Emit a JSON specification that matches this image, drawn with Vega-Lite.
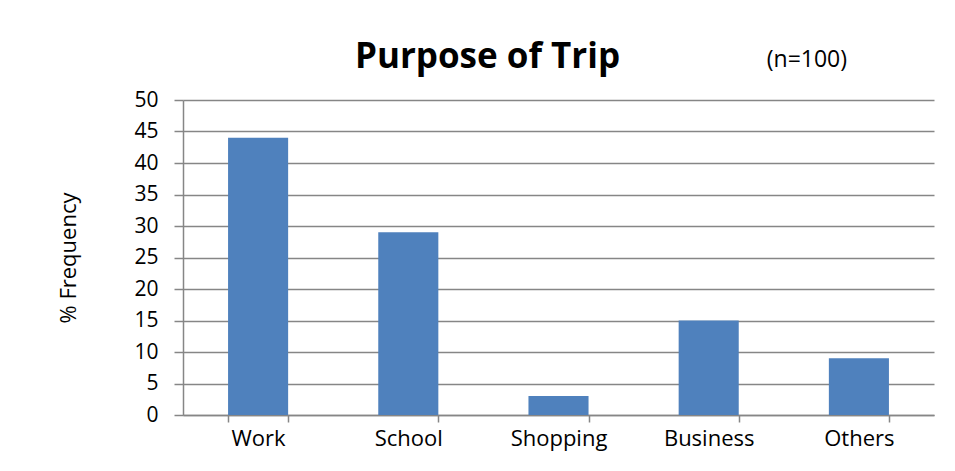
{
  "$schema": "https://vega.github.io/schema/vega-lite/v6.json",
  "width": 751,
  "height": 315,
  "autosize": {"type": "none"},
  "padding": {"left": 183, "top": 100, "right": 21, "bottom": 56},
  "background": "white",
  "title": {
    "text": "Purpose of Trip",
    "font": "Open Sans",
    "fontSize": 35,
    "fontWeight": "bold",
    "color": "#000000",
    "anchor": "middle",
    "dx": -71,
    "offset": -26
  },
  "encoding": {
    "x": {
      "field": "purpose",
      "type": "nominal",
      "sort": null,
      "scale": {"paddingInner": 0.6, "paddingOuter": 0.3},
      "axis": {
        "title": null,
        "labelAngle": 0,
        "labelFont": "Open Sans",
        "labelFontSize": 22,
        "labelColor": "#000000",
        "labelPadding": 6,
        "tickBand": "extent",
        "tickSize": 7,
        "tickColor": "#868686",
        "tickWidth": 1.5,
        "domainColor": "#868686",
        "domainWidth": 1.5,
        "grid": false
      }
    },
    "y": {
      "field": "freq",
      "type": "quantitative",
      "scale": {"domain": [0, 50]},
      "axis": {
        "title": "% Frequency",
        "titleFont": "Open Sans",
        "titleFontSize": 22,
        "titleFontWeight": "normal",
        "titleColor": "#000000",
        "titlePadding": 53,
        "values": [0, 5, 10, 15, 20, 25, 30, 35, 40, 45, 50],
        "labelOverlap": false,
        "labelFont": "Open Sans",
        "labelFontSize": 21,
        "labelColor": "#000000",
        "labelPadding": 16,
        "tickSize": 9,
        "tickColor": "#868686",
        "tickWidth": 1.5,
        "domainColor": "#868686",
        "domainWidth": 1.5,
        "gridColor": "#868686",
        "gridWidth": 1.5
      }
    }
  },
  "layer": [
    {
      "data": {
        "values": [
          {"purpose": "Work", "freq": 44},
          {"purpose": "School", "freq": 29},
          {"purpose": "Shopping", "freq": 3},
          {"purpose": "Business", "freq": 15},
          {"purpose": "Others", "freq": 9}
        ]
      },
      "mark": {"type": "bar", "color": "#4F81BD"}
    },
    {
      "data": {"values": [{"purpose": "Others", "freq": 50, "note": "(n=100)"}]},
      "mark": {"type": "text", "font": "Open Sans", "fontSize": 23, "color": "#000000", "dx": -52, "dy": -40},
      "encoding": {
        "text": {"field": "note"}
      }
    }
  ],
  "config": {"view": {"stroke": null}}
}
